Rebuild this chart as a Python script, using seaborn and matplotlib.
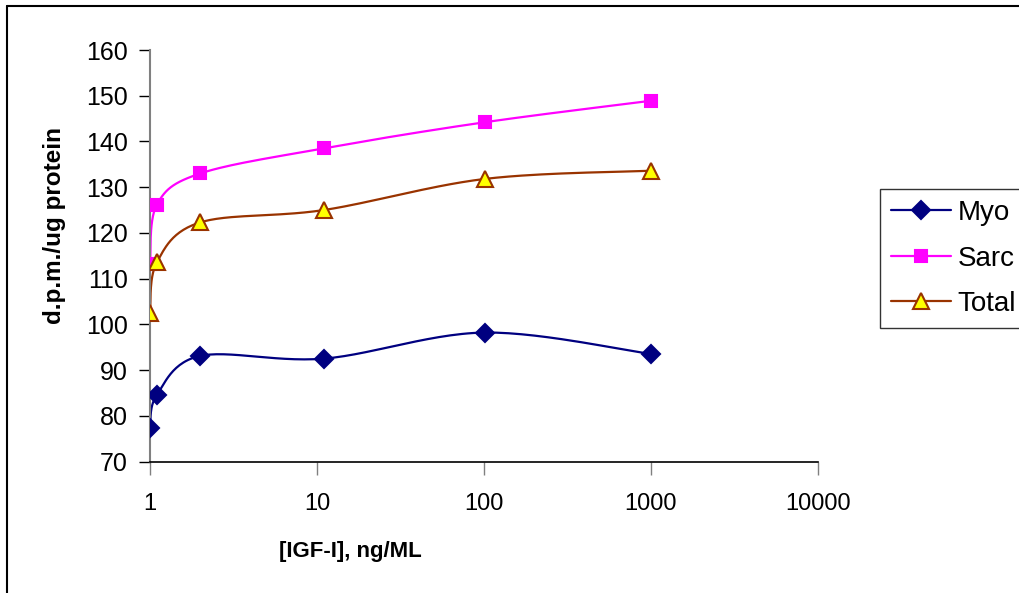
import numpy as np
import pandas as pd
import seaborn as sns
import matplotlib.pyplot as plt
from matplotlib.lines import Line2D

# IGF-I dose (+1 so that 0 can sit on the log axis)
dose = [1, 1.1, 2, 11, 101, 1001]
myo = [77.3, 84.6, 93.1, 92.5, 98.2, 93.5]
sarc = [113.2, 126.2, 133.0, 138.5, 144.2, 148.9]
total = [102.4, 113.6, 122.3, 125.0, 131.8, 133.6]

series = {
    'Myo': (myo, '#000080', 'D', '#000080', 9),
    'Sarc': (sarc, '#FF00FF', 's', '#FF00FF', 9),
    'Total': (total, '#993300', '^', '#FFFF00', 11),
}


def smooth(xs, ys, n=30):
    # Excel style smoothed line: Catmull-Rom through the points in (log x, y)
    lx = np.log10(xs)
    p = np.column_stack([lx, ys])
    p = np.vstack([p[0], p, p[-1]])
    out = []
    t = np.linspace(0, 1, n)[:, None]
    for i in range(1, len(p) - 2):
        p0, p1, p2, p3 = p[i - 1], p[i], p[i + 1], p[i + 2]
        c1 = p1 + (p2 - p0) / 6
        c2 = p2 - (p3 - p1) / 6
        seg = ((1 - t) ** 3 * p1 + 3 * (1 - t) ** 2 * t * c1
               + 3 * (1 - t) * t ** 2 * c2 + t ** 3 * p2)
        out.append(seg)
    out = np.vstack(out)
    return 10 ** out[:, 0], out[:, 1]


sns.set_style('white')
plt.rcParams['font.family'] = ['Liberation Sans', 'DejaVu Sans']
plt.rcParams['text.color'] = 'black'
plt.rcParams['axes.labelcolor'] = 'black'
plt.rcParams['xtick.labelcolor'] = 'black'
plt.rcParams['ytick.labelcolor'] = 'black'

fig = plt.figure(figsize=(10.19, 5.93), dpi=100)
ax = fig.add_axes([150 / 1019, 1 - 461.5 / 593, 668 / 1019, 411.5 / 593])

handles = []
for name, (vals, col, mk, face, ms) in series.items():
    sx, sy = smooth(dose, vals)
    sns.lineplot(x=sx, y=sy, ax=ax, color=col, lw=1.6, sort=False, estimator=None)
    df = pd.DataFrame({'dose': dose, 'val': vals})
    ax.plot(df['dose'], df['val'], ls='none', marker=mk, ms=ms,
            mfc=face, mec=col, mew=1.5, zorder=5)
    handles.append(Line2D([], [], color=col, lw=1.6, marker=mk, ms=ms,
                          mfc=face, mec=col, mew=1.5, label=name))

ax.set_xscale('log')
ax.set_xlim(1, 10000)
ax.set_ylim(70, 160)
ax.set_yticks(range(70, 161, 10))
ax.set_xticks([1, 10, 100, 1000, 10000])
ax.set_xticklabels(['1', '10', '100', '1000', '10000'])
ax.xaxis.set_minor_locator(plt.NullLocator())

for s in ['top', 'right']:
    ax.spines[s].set_visible(False)
ax.spines['left'].set_color('#808080')
ax.spines['left'].set_linewidth(1.5)
ax.spines['bottom'].set_color('black')
ax.spines['bottom'].set_linewidth(1.2)
ax.tick_params(axis='y', direction='out', length=8, width=1, color='black',
               labelsize=18, pad=8, left=True, labelcolor='black')
ax.tick_params(axis='x', direction='out', length=9, width=1, color='#808080',
               labelsize=17, pad=14, bottom=True, labelcolor='black')

ax.set_ylabel('d.p.m./ug protein', fontsize=17.5, fontweight='bold', va='center')
ax.yaxis.set_label_coords((54 - 150) / 668, (461.5 - 226) / 411.5)
ax.set_xlabel('[IGF-I], ng/ML', fontsize=16, fontweight='bold', va='center')
ax.xaxis.set_label_coords((350.5 - 150) / 668, (461.5 - 551.7) / 411.5)

leg = fig.legend(handles=handles, loc='upper left',
                 bbox_to_anchor=(880 / 1019, 1 - 189 / 593),
                 fontsize=20, frameon=True, fancybox=False, handlelength=2.15,
                 handletextpad=0.25, labelspacing=0.7, borderpad=0.4,
                 borderaxespad=0)
leg.get_frame().set_edgecolor('black')
leg.get_frame().set_linewidth(1)

# chart area border (left and top edges visible)
fig.add_artist(Line2D([7 / 1019, 7 / 1019], [0, 1 - 6 / 593], color='black', lw=1.5))
fig.add_artist(Line2D([7 / 1019, 1], [1 - 6 / 593, 1 - 6 / 593], color='black', lw=1.5))

fig.savefig('out.png', dpi=100)
